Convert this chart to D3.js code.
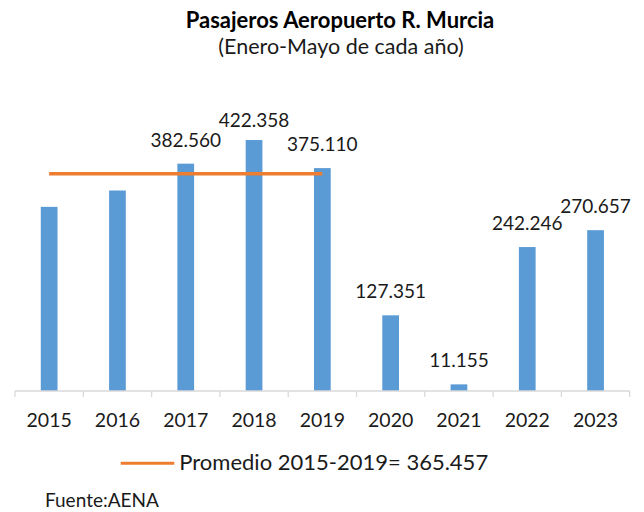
<!DOCTYPE html>
<html>
<head>
<meta charset="utf-8">
<script src="https://cdn.jsdelivr.net/npm/d3@7"></script>
<style>
    body { margin: 0; background: #fff; }
    svg { display: block; font-family: Lato, "Open Sans", sans-serif; }
</style>
</head>
<body>
<div id="chart-container"></div>
<script>
const years = ["2015", "2016", "2017", "2018", "2019", "2020", "2021", "2022", "2023"];
const passengers = [309900, 337400, 382560, 422358, 375110, 127351, 11155, 242246, 270657];
const labelled = [false, false, true, true, true, true, true, true, true];
const averageYears = ["2015", "2019"];
const averageValue = 365457;
const axisMax = 450000;

const titleText = "Pasajeros Aeropuerto R. Murcia";
const subtitleText = "(Enero-Mayo de cada año)";
const legendText = "Promedio 2015-2019= 365.457";
const sourceText = "Fuente:AENA";

const es = d3.formatLocale({decimal: ",", thousands: ".", grouping: [3], currency: ["", "€"]});
const fmt = es.format(",d");

function initChart() {
    const width = 644, height = 512;
    const plot = {left: 15, right: 629.7, top: 123.6, bottom: 391};

    const svg = d3.select("#chart-container").append("svg")
        .attr("width", width)
        .attr("height", height);

    const x = d3.scaleBand()
        .domain(years)
        .range([plot.left, plot.right])
        .padding(0);

    const y = d3.scaleLinear()
        .domain([0, axisMax])
        .range([plot.bottom, plot.top]);

    const barWidth = x.step() * 0.245;
    const data = years.map((d, i) => ({year: d, value: passengers[i], label: labelled[i]}));

    // barras
    svg.append("g").selectAll("rect")
        .data(data)
        .enter().append("rect")
        .attr("x", d => x(d.year) + (x.bandwidth() - barWidth) / 2)
        .attr("y", d => y(d.value))
        .attr("width", barWidth)
        .attr("height", d => y(0) - y(d.value))
        .style("fill", "#5B9BD5");

    // eje x
    const xAxis = d3.axisBottom(x)
        .tickSize(0)
        .tickPadding(22);
    const gx = svg.append("g")
        .attr("class", "axis")
        .attr("transform", `translate(0, ${plot.bottom})`)
        .call(xAxis);
    gx.select(".domain").remove();
    gx.selectAll("text")
        .style("font-family", "Lato, sans-serif")
        .style("font-size", "19.5px")
        .style("fill", "#1a1a1a");

    gx.append("line")
        .attr("x1", plot.left).attr("x2", plot.right)
        .attr("y1", 0).attr("y2", 0)
        .style("stroke", "#D9D9D9")
        .style("stroke-width", 1.3);
    const bounds = years.map(d => x(d)).concat([x(years[years.length - 1]) + x.step()]);
    gx.selectAll(".bound")
        .data(bounds)
        .enter().append("line")
        .attr("class", "bound")
        .attr("x1", d => d).attr("x2", d => d)
        .attr("y1", 0).attr("y2", 6)
        .style("stroke", "#D9D9D9")
        .style("stroke-width", 1.3);

    // etiquetas de datos
    svg.append("g").selectAll("text")
        .data(data.filter(d => d.label))
        .enter().append("text")
        .attr("x", d => x(d.year) + x.bandwidth() / 2)
        .attr("y", d => Math.max(y(d.value) - 17, plot.top + 3))
        .attr("text-anchor", "middle")
        .style("font-size", "19px")
        .style("fill", "#1a1a1a")
        .text(d => fmt(d.value));

    // línea de promedio
    svg.append("line")
        .attr("x1", x(averageYears[0]) + x.bandwidth() / 2)
        .attr("x2", x(averageYears[1]) + x.bandwidth() / 2)
        .attr("y1", y(averageValue))
        .attr("y2", y(averageValue))
        .style("stroke", "#ED7D31")
        .style("stroke-width", 3.5);

    // títulos
    svg.append("text")
        .attr("x", 340).attr("y", 28)
        .attr("text-anchor", "middle")
        .style("font-size", "22px")
        .style("font-weight", "bold")
        .style("fill", "#000")
        .text(titleText);
    svg.append("text")
        .attr("x", 341).attr("y", 54)
        .attr("text-anchor", "middle")
        .style("font-size", "21.5px")
        .style("fill", "#1a1a1a")
        .text(subtitleText);

    // leyenda
    const legend = svg.append("g").attr("transform", "translate(120.7, 463.3)");
    legend.append("line")
        .attr("x1", 0).attr("x2", 53.6)
        .attr("y1", 0).attr("y2", 0)
        .style("stroke", "#ED7D31")
        .style("stroke-width", 3);
    legend.append("text")
        .attr("x", 58.6).attr("y", 6.8)
        .style("font-size", "22px")
        .style("fill", "#1a1a1a")
        .text(legendText);

    svg.append("text")
        .attr("x", 45).attr("y", 507)
        .style("font-size", "19px")
        .style("fill", "#1a1a1a")
        .text(sourceText);
}

initChart();
</script>
</body>
</html>
